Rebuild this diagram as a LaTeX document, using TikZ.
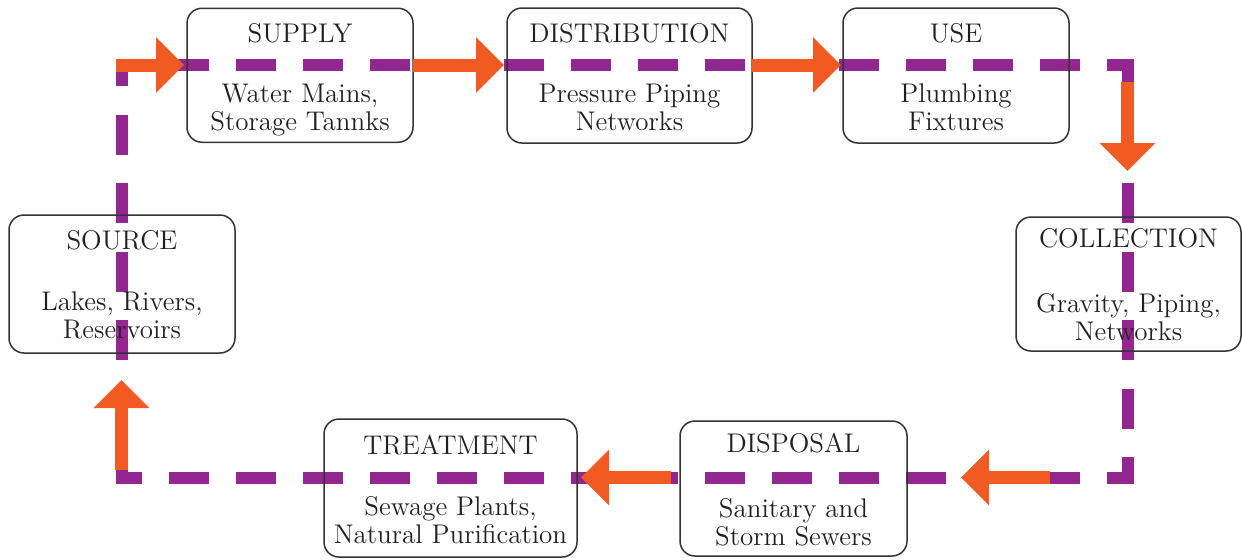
\documentclass[tikz,border=0pt]{standalone}
\usepackage{fontspec}
\usetikzlibrary{arrows.meta}
\definecolor{pipe}{HTML}{92278F}
\definecolor{flow}{HTML}{F15A22}
\definecolor{ink}{HTML}{231F20}
\definecolor{edge}{HTML}{333333}
\tikzset{
  stagebox/.style={draw=edge, line width=0.75pt, rounded corners=7.5pt, inner sep=0pt},
  label/.style={anchor=base, inner sep=0pt, text=ink, font=\fontsize{13.5}{14}\selectfont},
  pipeh/.style={draw=pipe, line width=6pt, dash pattern=on 20pt off 13.5pt, dash phase=7pt},
  pipev/.style={draw=pipe, line width=6pt, dash pattern=on 20pt off 14.25pt, dash phase=6.75pt},
  flowarrow/.style={draw=flow, line width=6.5pt, -{Triangle[length=14pt,width=27pt]}, color=flow}
}
\begin{document}
\begin{tikzpicture}[x=0.5pt,y=-0.5pt]
\useasboundingbox (0,0) rectangle (1242,559);
% loop corners
\coordinate (tl) at (121.5,65);
\coordinate (tr) at (1127.5,65);
\coordinate (br) at (1127.5,477.5);
\coordinate (bl) at (121.5,477.5);
% dashed pipe loop
\draw[pipeh] ([xshift=-3pt]tl) -- ([xshift=3pt]tr);
\draw[pipeh] ([xshift=-3pt]bl) -- ([xshift=3pt]br);
\draw[pipev] ([yshift=-3pt]bl) -- ([yshift=3pt]tl);
\draw[pipev] ([yshift=-3pt]br) -- ([yshift=3pt]tr);
% boxes
\node[stagebox, minimum width=113pt, minimum height=67pt] (supply) at (300,75.25) {};
\node[stagebox, minimum width=122.5pt, minimum height=67.5pt] (distribution) at (629.5,75.5) {};
\node[stagebox, minimum width=113pt, minimum height=67.5pt] (use) at (956,75.5) {};
\node[stagebox, minimum width=113pt, minimum height=69pt] (source) at (122,284) {};
\node[stagebox, minimum width=112.5pt, minimum height=67pt] (collection) at (1128.5,284) {};
\node[stagebox, minimum width=126.5pt, minimum height=69pt] (treatment) at (450.5,488) {};
\node[stagebox, minimum width=113.5pt, minimum height=67.5pt] (disposal) at (793.5,488.5) {};
% texts
\node[label] (supply-t) at (300,42) {SUPPLY};
\node[label] (supply-a) at (300,102) {Water Mains,};
\node[label] (supply-b) at (300,130) {Storage Tannks};
\node[label] (distribution-t) at (629.5,42) {DISTRIBUTION};
\node[label] (distribution-a) at (629.5,102) {Pressure Piping};
\node[label] (distribution-b) at (629.5,130) {Networks};
\node[label] (use-t) at (956,42) {USE};
\node[label] (use-a) at (956,102) {Plumbing};
\node[label] (use-b) at (956,130) {Fixtures};
\node[label] (source-t) at (122,249) {SOURCE};
\node[label] (source-a) at (122,310) {Lakes, Rivers,};
\node[label] (source-b) at (122,338) {Reservoirs};
\node[label] (collection-t) at (1128.5,247) {COLLECTION};
\node[label] (collection-a) at (1128.5,312) {Gravity, Piping,};
\node[label] (collection-b) at (1128.5,340) {Networks};
\node[label] (treatment-t) at (450.5,454) {TREATMENT};
\node[label] (treatment-a) at (450.5,515) {Sewage Plants,};
\node[label] (treatment-b) at (450.5,543) {Natural Purification};
\node[label] (disposal-t) at (793.5,452) {DISPOSAL};
\node[label] (disposal-a) at (793.5,517) {Sanitary and};
\node[label] (disposal-b) at (793.5,545) {Storm Sewers};
% flow arrows
\coordinate (f1s) at (115.5,65);   \coordinate (f1e) at (184,65);
\coordinate (f2s) at (413,65);     \coordinate (f2e) at (504,65);
\coordinate (f3s) at (752,65);     \coordinate (f3e) at (841,65);
\coordinate (f4s) at (1127.5,82);  \coordinate (f4e) at (1127.5,171);
\coordinate (f5s) at (1050,477.5); \coordinate (f5e) at (961,477.5);
\coordinate (f6s) at (671,477.5);  \coordinate (f6e) at (581,477.5);
\coordinate (f7s) at (121.5,470);  \coordinate (f7e) at (121.5,380);
\draw[flowarrow] (f1s) -- (f1e);
\draw[flowarrow] (f2s) -- (f2e);
\draw[flowarrow] (f3s) -- (f3e);
\draw[flowarrow] (f4s) -- (f4e);
\draw[flowarrow] (f5s) -- (f5e);
\draw[flowarrow] (f6s) -- (f6e);
\draw[flowarrow] (f7s) -- (f7e);
\end{tikzpicture}
\end{document}
